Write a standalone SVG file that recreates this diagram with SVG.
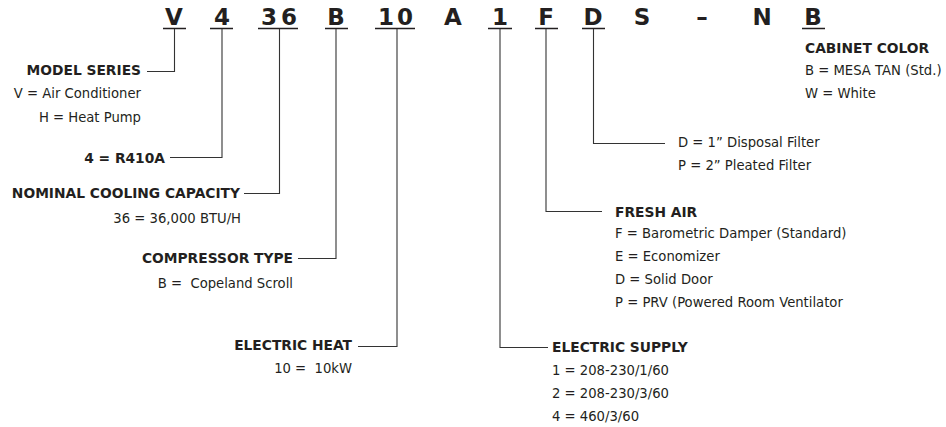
<svg xmlns="http://www.w3.org/2000/svg" width="946" height="427" viewBox="0 0 946 427">
<style>
text{font-family:"DejaVu Sans","Verdana",sans-serif;fill:#231f20}
.code{font-size:23px;font-weight:bold;text-anchor:middle}
.h{font-size:13.8px;font-weight:bold}
.t{font-size:13.2px}
.e{text-anchor:end}
.ul{stroke:#231f20;stroke-width:1.6;fill:none}
.c{stroke:#333;stroke-width:1.1;fill:none}
</style>
<rect width="946" height="427" fill="#fff"/>
<g id="code">
<text class="code" x="174" y="25">V</text>
<text class="code" x="222" y="25">4</text>
<text class="code" x="269" y="25">3</text>
<text class="code" x="289" y="25">6</text>
<text class="code" x="336" y="25">B</text>
<text class="code" x="386" y="25">1</text>
<text class="code" x="405" y="25">0</text>
<text class="code" x="453" y="25">A</text>
<text class="code" x="500" y="25">1</text>
<text class="code" x="546" y="25">F</text>
<text class="code" x="593" y="25">D</text>
<text class="code" x="642" y="25">S</text>
<text class="code" x="702" y="25">–</text>
<text class="code" x="762" y="25">N</text>
<text class="code" x="813" y="25">B</text>
<path class="ul" d="M163,28.5H186M210,28.5H233M258,28.5H298M325,28.5H348M375,28.5H415M488,28.5H512M535,28.5H558M582,28.5H605M802,28.5H825"/>
</g>
<g id="connectors">
<path class="c" d="M174.5,29V71.5H147"/>
<path class="c" d="M222,29V157.5H170"/>
<path class="c" d="M279.5,29V193.5H244"/>
<path class="c" d="M336,29V258.5H298"/>
<path class="c" d="M397,29V346.5H358"/>
<path class="c" d="M500,29V347.5H548"/>
<path class="c" d="M546,29V211.5H602"/>
<path class="c" d="M593.5,29V143.5H665"/>
</g>
<g id="model-series">
<text class="h e" x="141" y="75">MODEL SERIES</text>
<text class="t e" x="141" y="98">V = Air Conditioner</text>
<text class="t e" x="141" y="122">H = Heat Pump</text>
</g>
<g id="refrigerant">
<text class="h e" x="165" y="163">4 = R410A</text>
</g>
<g id="cooling-capacity">
<text class="h e" x="240" y="198">NOMINAL COOLING CAPACITY</text>
<text class="t e" x="241" y="223">36 = 36,000 BTU/H</text>
</g>
<g id="compressor-type">
<text class="h e" x="293" y="263">COMPRESSOR TYPE</text>
<text class="t e" x="293" y="288">B =&#160; Copeland Scroll</text>
</g>
<g id="electric-heat">
<text class="h e" x="352" y="350">ELECTRIC HEAT</text>
<text class="t e" x="352" y="373">10 =&#160; 10kW</text>
</g>
<g id="filter">
<text class="t" x="678" y="147">D = 1” Disposal Filter</text>
<text class="t" x="678" y="170">P = 2” Pleated Filter</text>
</g>
<g id="fresh-air">
<text class="h" x="615" y="217">FRESH AIR</text>
<text class="t" x="615" y="238">F = Barometric Damper (Standard)</text>
<text class="t" x="615" y="261">E = Economizer</text>
<text class="t" x="615" y="284">D = Solid Door</text>
<text class="t" x="615" y="307">P = PRV (Powered Room Ventilator</text>
</g>
<g id="electric-supply">
<text class="h" x="552" y="352">ELECTRIC SUPPLY</text>
<text class="t" x="552" y="375">1 = 208-230/1/60</text>
<text class="t" x="552" y="398">2 = 208-230/3/60</text>
<text class="t" x="552" y="421">4 = 460/3/60</text>
</g>
<g id="cabinet-color">
<text class="h" x="805" y="53">CABINET COLOR</text>
<text class="t" x="805" y="75">B = MESA TAN (Std.)</text>
<text class="t" x="805" y="98">W = White</text>
</g>
</svg>
